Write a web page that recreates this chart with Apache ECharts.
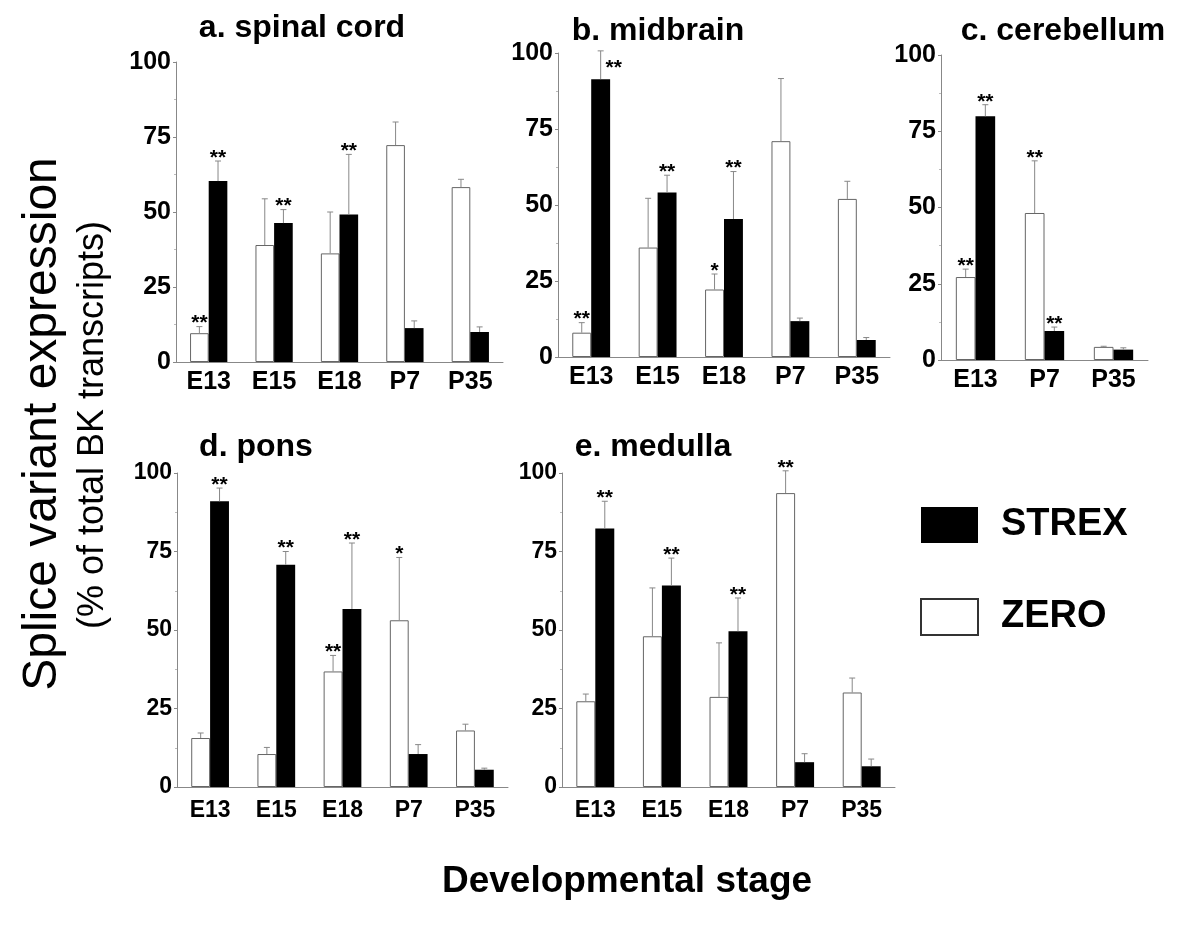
<!DOCTYPE html>
<html>
<head>
<meta charset="utf-8">
<script src="https://cdn.jsdelivr.net/npm/echarts@6/dist/echarts.min.js"></script>
<style>
  html, body { margin: 0; padding: 0; background: #fff; }
  #chart { width: 1200px; height: 929px; }
</style>
</head>
<body>
<div id="chart"></div>
<script>
const FONT = '"Liberation Sans", Arial, sans-serif';

// categories
const stages = ['E13', 'E15', 'E18', 'P7', 'P35'];
const stagesCereb = ['E13', 'P7', 'P35'];
const yTicks = [0, 25, 50, 75, 100];

// a. spinal cord
const spinalZero = [9.6, 39, 36.2, 72.3, 58.3];
const spinalZeroErr = [2.2, 15.4, 13.8, 7.7, 2.6];
const spinalStrex = [60.3, 46.3, 49.2, 11.3, 10];
const spinalStrexErr = [6.7, 4.5, 20, 2.4, 1.7];
const spinalZeroSig = ['**', '', '', '', ''];
const spinalStrexSig = ['**', '**', '**', '', ''];

// b. midbrain
const midZero = [8, 36, 22.2, 71, 52];
const midZeroErr = [3.3, 16.2, 5.1, 20.6, 5.8];
const midStrex = [91.4, 54.1, 45.4, 11.8, 5.6];
const midStrexErr = [9.3, 5.7, 15.6, 1, 0.8];
const midZeroSig = ['**', '', '*', '', ''];
const midStrexSig = ['**', '**', '**', '', ''];

// c. cerebellum
const cerebZero = [27.2, 48.2, 4.3];
const cerebZeroErr = [2.6, 17.1, 0.2];
const cerebStrex = [79.9, 9.5, 3.4];
const cerebStrexErr = [3.8, 1.3, 0.6];
const cerebZeroSig = ['**', '**', ''];
const cerebStrexSig = ['**', '**', ''];

// d. pons
const ponsZero = [15.6, 10.5, 36.8, 53.1, 18];
const ponsZeroErr = [1.6, 2.1, 5.1, 20, 2];
const ponsStrex = [91, 70.8, 56.7, 10.5, 5.5];
const ponsStrexErr = [4.2, 4.2, 21, 3, 0.5];
const ponsZeroSig = ['', '', '**', '*', ''];
const ponsStrexSig = ['**', '**', '**', '', ''];

// e. medulla
const medZero = [27.3, 48, 28.7, 93.6, 30.1];
const medZeroErr = [2.3, 15.4, 17.2, 7.1, 4.6];
const medStrex = [82.3, 64.2, 49.6, 7.9, 6.6];
const medStrexErr = [8.7, 8.7, 10.6, 2.7, 2.3];
const medZeroSig = ['', '', '', '**', ''];
const medStrexSig = ['**', '**', '**', '', ''];

const panels = [
  { title: 'a. spinal cord', tx: 302, ty: 28, cats: stages,
    zero: spinalZero, zeroErr: spinalZeroErr, strex: spinalStrex, strexErr: spinalStrexErr,
    zeroSig: spinalZeroSig, strexSig: spinalStrexSig,
    box: { left: 176, top: 62, width: 327, height: 300 }, fs: 25, xm: 8 },
  { title: 'b. midbrain', tx: 658, ty: 31, cats: stages,
    zero: midZero, zeroErr: midZeroErr, strex: midStrex, strexErr: midStrexErr,
    zeroSig: midZeroSig, strexSig: midStrexSig,
    // the E13 stars sit beside the error bar, under the title
    strexNudge: { 0: [13, 20] },
    box: { left: 558, top: 53, width: 332, height: 304 }, fs: 25, xm: 8 },
  { title: 'c. cerebellum', tx: 1063, ty: 31, cats: stagesCereb,
    zero: cerebZero, zeroErr: cerebZeroErr, strex: cerebStrex, strexErr: cerebStrexErr,
    zeroSig: cerebZeroSig, strexSig: cerebStrexSig,
    box: { left: 941, top: 55, width: 207, height: 305 }, fs: 25, xm: 8 },
  { title: 'd. pons', tx: 256, ty: 447, cats: stages,
    zero: ponsZero, zeroErr: ponsZeroErr, strex: ponsStrex, strexErr: ponsStrexErr,
    zeroSig: ponsZeroSig, strexSig: ponsStrexSig,
    box: { left: 177, top: 473, width: 331, height: 314 }, fs: 23, xm: 12 },
  { title: 'e. medulla', tx: 653, ty: 447, cats: stages,
    zero: medZero, zeroErr: medZeroErr, strex: medStrex, strexErr: medStrexErr,
    zeroSig: medZeroSig, strexSig: medStrexSig,
    box: { left: 562, top: 473, width: 333, height: 314 }, fs: 23, xm: 12 }
];

const BAR_FRAC = 0.57;

function errRender(side, sig, nudge) {
  return function (params, api) {
    const i = api.value(0);
    const bw = api.size([1, 0])[0] * BAR_FRAC / 2;
    const x = api.coord([i, 0])[0] + side * bw / 2;
    const y1 = api.coord([i, api.value(1)])[1];
    const y2 = api.coord([i, api.value(2)])[1];
    const children = [
      { type: 'line', shape: { x1: x, y1: y1, x2: x, y2: y2 }, style: { stroke: '#888', lineWidth: 1 } },
      { type: 'line', shape: { x1: x - 3, y1: y2, x2: x + 3, y2: y2 }, style: { stroke: '#888', lineWidth: 1 } }
    ];
    const s = sig[params.dataIndex];
    if (s) {
      const d = (nudge && nudge[params.dataIndex]) || [0, 0];
      children.push({
        type: 'text',
        style: { text: s, x: x + d[0], y: y2 - 3 + d[1], align: 'center', verticalAlign: 'middle',
                 font: 'bold 21px ' + FONT, fill: '#000' }
      });
    }
    return { type: 'group', children: children };
  };
}

const grid = [], xAxis = [], yAxis = [], series = [], graphic = [];

panels.forEach((p, i) => {
  grid.push(Object.assign({}, p.box));
  xAxis.push({
    type: 'category', gridIndex: i, data: p.cats,
    axisLine: { lineStyle: { color: '#888', width: 1 } },
    axisTick: { length: 4, lineStyle: { color: '#888' } },
    axisLabel: { color: '#000', fontFamily: FONT, fontWeight: 'bold', fontSize: p.fs, margin: p.xm }
  });
  yAxis.push({
    type: 'value', gridIndex: i, min: yTicks[0], max: yTicks[yTicks.length - 1], interval: 25,
    axisLine: { show: true, lineStyle: { color: '#888', width: 1 } },
    axisTick: { show: true, length: 3, lineStyle: { color: '#888' } },
    minorTick: { show: true, splitNumber: 2, length: 2, lineStyle: { color: '#bbb' } },
    splitLine: { show: false },
    axisLabel: { color: '#000', fontFamily: FONT, fontWeight: 'bold', fontSize: p.fs, margin: 5 }
  });
  series.push({
    type: 'bar', name: 'ZERO', xAxisIndex: i, yAxisIndex: i, data: p.zero,
    barGap: '0%', barCategoryGap: (100 - BAR_FRAC * 100) + '%',
    itemStyle: { color: '#fff', borderColor: '#666', borderWidth: 1 },
    emphasis: { disabled: true }
  });
  series.push({
    type: 'bar', name: 'STREX', xAxisIndex: i, yAxisIndex: i, data: p.strex,
    barGap: '0%', barCategoryGap: (100 - BAR_FRAC * 100) + '%',
    itemStyle: { color: '#000' },
    emphasis: { disabled: true }
  });
  series.push({
    type: 'custom', name: 'ZERO error', xAxisIndex: i, yAxisIndex: i, z: 5,
    renderItem: errRender(-1, p.zeroSig, p.zeroNudge),
    data: p.zero.map((v, k) => [k, v, v + p.zeroErr[k]])
  });
  series.push({
    type: 'custom', name: 'STREX error', xAxisIndex: i, yAxisIndex: i, z: 5,
    renderItem: errRender(1, p.strexSig, p.strexNudge),
    data: p.strex.map((v, k) => [k, v, v + p.strexErr[k]])
  });
  graphic.push({
    type: 'text', x: p.tx, y: p.ty,
    style: { text: p.title, align: 'center', verticalAlign: 'middle',
             font: 'bold 32px ' + FONT, fill: '#000' }
  });
});

graphic.push({
  type: 'text', x: 43, y: 424, rotation: Math.PI / 2,
  style: { text: 'Splice variant expression', align: 'center', verticalAlign: 'middle',
           font: '48px ' + FONT, fill: '#000' }
});
graphic.push({
  type: 'text', x: 93, y: 425, rotation: Math.PI / 2,
  style: { text: '(% of total BK transcripts)', align: 'center', verticalAlign: 'middle',
           font: '36px ' + FONT, fill: '#000' }
});
graphic.push({
  type: 'text', x: 627, y: 882,
  style: { text: 'Developmental stage', align: 'center', verticalAlign: 'middle',
           font: 'bold 37px ' + FONT, fill: '#000' }
});

const chart = echarts.init(document.getElementById('chart'), null, { renderer: 'canvas' });
chart.setOption({
  animation: false,
  backgroundColor: '#fff',
  grid: grid,
  xAxis: xAxis,
  yAxis: yAxis,
  series: series,
  graphic: graphic,
  legend: {
    orient: 'vertical', left: 920, top: 506, padding: 0,
    itemWidth: 57, itemHeight: 36, itemGap: 54,
    icon: 'rect',
    selectedMode: false,
    data: [
      { name: 'STREX', itemStyle: { color: '#000' } },
      { name: 'ZERO', itemStyle: { color: '#fff', borderColor: '#333', borderWidth: 2 } }
    ],
    textStyle: { fontFamily: FONT, fontWeight: 'bold', fontSize: 38, color: '#000', padding: [0, 0, 0, 18] }
  }
});
</script>
</body>
</html>
